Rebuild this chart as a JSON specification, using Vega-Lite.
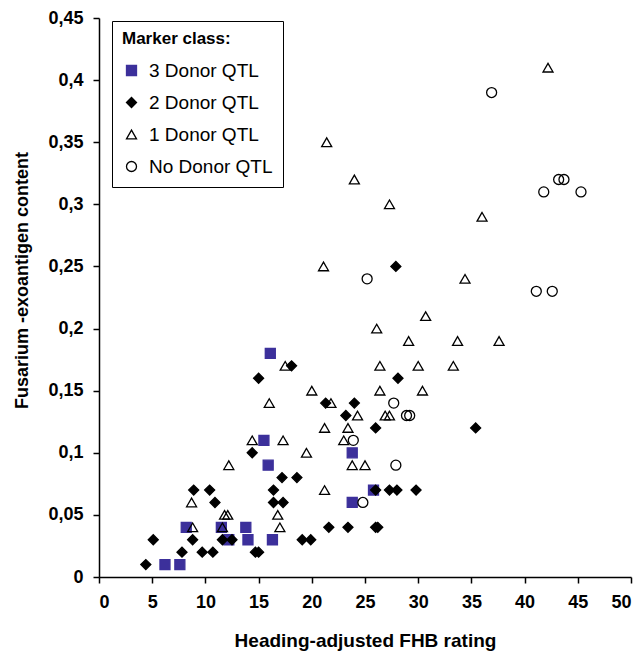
{
  "$schema": "https://vega.github.io/schema/vega-lite/v6.json",
  "width": 532,
  "height": 559,
  "autosize": {"type": "none"},
  "padding": {"left": 99, "top": 18, "right": 13, "bottom": 75},
  "background": "white",
  "config": {
    "view": {"stroke": null},
    "font": "Liberation Sans",
    "axis": {
      "domainColor": "black",
      "domainWidth": 1.5,
      "tickColor": "black",
      "tickWidth": 1.5,
      "tickSize": 6,
      "grid": false,
      "labelFont": "Liberation Sans",
      "labelFontSize": 18,
      "labelFontWeight": "bold",
      "labelColor": "black",
      "labelPadding": 10,
      "titleFont": "Liberation Sans",
      "titleFontSize": 19,
      "titleFontWeight": "bold",
      "titleColor": "black"
    },
    "legend": {
      "orient": "none",
      "legendX": 13,
      "legendY": 3,
      "padding": 10,
      "strokeColor": "black",
      "fillColor": "white",
      "titleFont": "Liberation Sans",
      "titleFontSize": 17,
      "titleFontWeight": "bold",
      "titleColor": "black",
      "titlePadding": 13,
      "labelFont": "Liberation Sans",
      "labelFontSize": 19,
      "labelColor": "black",
      "labelOffset": 8,
      "rowPadding": 12,
      "symbolStrokeWidth": 1.3
    }
  },
  "data": {
    "values": [
      {"x": 6.2, "y": 0.01, "cls": "3 Donor QTL"},
      {"x": 7.6, "y": 0.01, "cls": "3 Donor QTL"},
      {"x": 8.2, "y": 0.04, "cls": "3 Donor QTL"},
      {"x": 11.5, "y": 0.04, "cls": "3 Donor QTL"},
      {"x": 12.2, "y": 0.03, "cls": "3 Donor QTL"},
      {"x": 13.8, "y": 0.04, "cls": "3 Donor QTL"},
      {"x": 14.0, "y": 0.03, "cls": "3 Donor QTL"},
      {"x": 16.3, "y": 0.03, "cls": "3 Donor QTL"},
      {"x": 15.5, "y": 0.11, "cls": "3 Donor QTL"},
      {"x": 15.9, "y": 0.09, "cls": "3 Donor QTL"},
      {"x": 16.1, "y": 0.18, "cls": "3 Donor QTL"},
      {"x": 23.8, "y": 0.10, "cls": "3 Donor QTL"},
      {"x": 23.8, "y": 0.06, "cls": "3 Donor QTL"},
      {"x": 25.8, "y": 0.07, "cls": "3 Donor QTL"},

      {"x": 4.4, "y": 0.01, "cls": "2 Donor QTL"},
      {"x": 5.1, "y": 0.03, "cls": "2 Donor QTL"},
      {"x": 7.8, "y": 0.02, "cls": "2 Donor QTL"},
      {"x": 8.8, "y": 0.03, "cls": "2 Donor QTL"},
      {"x": 8.9, "y": 0.07, "cls": "2 Donor QTL"},
      {"x": 9.7, "y": 0.02, "cls": "2 Donor QTL"},
      {"x": 10.4, "y": 0.07, "cls": "2 Donor QTL"},
      {"x": 10.7, "y": 0.02, "cls": "2 Donor QTL"},
      {"x": 10.9, "y": 0.06, "cls": "2 Donor QTL"},
      {"x": 11.6, "y": 0.03, "cls": "2 Donor QTL"},
      {"x": 12.5, "y": 0.03, "cls": "2 Donor QTL"},
      {"x": 14.4, "y": 0.10, "cls": "2 Donor QTL"},
      {"x": 14.7, "y": 0.02, "cls": "2 Donor QTL"},
      {"x": 15.0, "y": 0.02, "cls": "2 Donor QTL"},
      {"x": 15.0, "y": 0.16, "cls": "2 Donor QTL"},
      {"x": 16.4, "y": 0.07, "cls": "2 Donor QTL"},
      {"x": 16.4, "y": 0.06, "cls": "2 Donor QTL"},
      {"x": 17.2, "y": 0.08, "cls": "2 Donor QTL"},
      {"x": 17.3, "y": 0.06, "cls": "2 Donor QTL"},
      {"x": 18.1, "y": 0.17, "cls": "2 Donor QTL"},
      {"x": 18.6, "y": 0.08, "cls": "2 Donor QTL"},
      {"x": 19.1, "y": 0.03, "cls": "2 Donor QTL"},
      {"x": 19.9, "y": 0.03, "cls": "2 Donor QTL"},
      {"x": 21.3, "y": 0.14, "cls": "2 Donor QTL"},
      {"x": 21.6, "y": 0.04, "cls": "2 Donor QTL"},
      {"x": 23.2, "y": 0.13, "cls": "2 Donor QTL"},
      {"x": 23.4, "y": 0.04, "cls": "2 Donor QTL"},
      {"x": 24.0, "y": 0.14, "cls": "2 Donor QTL"},
      {"x": 26.0, "y": 0.12, "cls": "2 Donor QTL"},
      {"x": 26.0, "y": 0.07, "cls": "2 Donor QTL"},
      {"x": 26.0, "y": 0.04, "cls": "2 Donor QTL"},
      {"x": 26.2, "y": 0.04, "cls": "2 Donor QTL"},
      {"x": 27.3, "y": 0.07, "cls": "2 Donor QTL"},
      {"x": 28.0, "y": 0.07, "cls": "2 Donor QTL"},
      {"x": 28.1, "y": 0.16, "cls": "2 Donor QTL"},
      {"x": 27.9, "y": 0.25, "cls": "2 Donor QTL"},
      {"x": 29.8, "y": 0.07, "cls": "2 Donor QTL"},
      {"x": 35.4, "y": 0.12, "cls": "2 Donor QTL"},

      {"x": 8.7, "y": 0.06, "cls": "1 Donor QTL"},
      {"x": 8.8, "y": 0.04, "cls": "1 Donor QTL"},
      {"x": 11.6, "y": 0.04, "cls": "1 Donor QTL"},
      {"x": 11.8, "y": 0.05, "cls": "1 Donor QTL"},
      {"x": 12.1, "y": 0.05, "cls": "1 Donor QTL"},
      {"x": 12.2, "y": 0.09, "cls": "1 Donor QTL"},
      {"x": 14.4, "y": 0.11, "cls": "1 Donor QTL"},
      {"x": 16.0, "y": 0.14, "cls": "1 Donor QTL"},
      {"x": 16.8, "y": 0.05, "cls": "1 Donor QTL"},
      {"x": 17.0, "y": 0.04, "cls": "1 Donor QTL"},
      {"x": 17.3, "y": 0.11, "cls": "1 Donor QTL"},
      {"x": 17.5, "y": 0.17, "cls": "1 Donor QTL"},
      {"x": 19.5, "y": 0.10, "cls": "1 Donor QTL"},
      {"x": 20.0, "y": 0.15, "cls": "1 Donor QTL"},
      {"x": 21.2, "y": 0.12, "cls": "1 Donor QTL"},
      {"x": 21.2, "y": 0.07, "cls": "1 Donor QTL"},
      {"x": 21.8, "y": 0.14, "cls": "1 Donor QTL"},
      {"x": 23.0, "y": 0.11, "cls": "1 Donor QTL"},
      {"x": 23.4, "y": 0.12, "cls": "1 Donor QTL"},
      {"x": 23.8, "y": 0.09, "cls": "1 Donor QTL"},
      {"x": 24.3, "y": 0.13, "cls": "1 Donor QTL"},
      {"x": 25.0, "y": 0.09, "cls": "1 Donor QTL"},
      {"x": 26.1, "y": 0.20, "cls": "1 Donor QTL"},
      {"x": 26.4, "y": 0.17, "cls": "1 Donor QTL"},
      {"x": 26.4, "y": 0.15, "cls": "1 Donor QTL"},
      {"x": 26.9, "y": 0.13, "cls": "1 Donor QTL"},
      {"x": 27.3, "y": 0.13, "cls": "1 Donor QTL"},
      {"x": 29.1, "y": 0.19, "cls": "1 Donor QTL"},
      {"x": 30.0, "y": 0.17, "cls": "1 Donor QTL"},
      {"x": 30.4, "y": 0.15, "cls": "1 Donor QTL"},
      {"x": 30.7, "y": 0.21, "cls": "1 Donor QTL"},
      {"x": 33.3, "y": 0.17, "cls": "1 Donor QTL"},
      {"x": 33.7, "y": 0.19, "cls": "1 Donor QTL"},
      {"x": 37.6, "y": 0.19, "cls": "1 Donor QTL"},
      {"x": 21.1, "y": 0.25, "cls": "1 Donor QTL"},
      {"x": 21.4, "y": 0.35, "cls": "1 Donor QTL"},
      {"x": 24.0, "y": 0.32, "cls": "1 Donor QTL"},
      {"x": 27.3, "y": 0.30, "cls": "1 Donor QTL"},
      {"x": 34.4, "y": 0.24, "cls": "1 Donor QTL"},
      {"x": 36.0, "y": 0.29, "cls": "1 Donor QTL"},
      {"x": 42.2, "y": 0.41, "cls": "1 Donor QTL"},

      {"x": 23.9, "y": 0.11, "cls": "No Donor QTL"},
      {"x": 24.8, "y": 0.06, "cls": "No Donor QTL"},
      {"x": 27.7, "y": 0.14, "cls": "No Donor QTL"},
      {"x": 27.9, "y": 0.09, "cls": "No Donor QTL"},
      {"x": 28.9, "y": 0.13, "cls": "No Donor QTL"},
      {"x": 29.2, "y": 0.13, "cls": "No Donor QTL"},
      {"x": 25.2, "y": 0.24, "cls": "No Donor QTL"},
      {"x": 36.9, "y": 0.39, "cls": "No Donor QTL"},
      {"x": 41.1, "y": 0.23, "cls": "No Donor QTL"},
      {"x": 42.6, "y": 0.23, "cls": "No Donor QTL"},
      {"x": 41.8, "y": 0.31, "cls": "No Donor QTL"},
      {"x": 43.2, "y": 0.32, "cls": "No Donor QTL"},
      {"x": 43.7, "y": 0.32, "cls": "No Donor QTL"},
      {"x": 45.3, "y": 0.31, "cls": "No Donor QTL"}
    ]
  },
  "mark": {"type": "point", "opacity": 1, "strokeWidth": 1.3},
  "encoding": {
    "x": {
      "field": "x",
      "type": "quantitative",
      "scale": {"domain": [0, 50], "nice": false, "zero": true},
      "axis": {
        "title": "Heading-adjusted FHB rating",
        "values": [0, 5, 10, 15, 20, 25, 30, 35, 40, 45, 50],
        "titlePadding": 20
      }
    },
    "y": {
      "field": "y",
      "type": "quantitative",
      "scale": {"domain": [0, 0.45], "nice": false},
      "axis": {
        "title": "Fusarium -exoantigen content",
        "values": [0, 0.05, 0.1, 0.15, 0.2, 0.25, 0.3, 0.35, 0.4, 0.45],
        "labelExpr": "replace(format(datum.value, '.2~f'), '.', ',')",
        "titlePadding": 16,
        "titleY": 262,
        "titleFontSize": 18
      }
    },
    "shape": {
      "field": "cls",
      "type": "nominal",
      "scale": {
        "domain": ["3 Donor QTL", "2 Donor QTL", "1 Donor QTL", "No Donor QTL"],
        "range": ["square", "diamond", "triangle-up", "circle"]
      },
      "legend": {"title": "Marker class:"}
    },
    "fill": {
      "field": "cls",
      "type": "nominal",
      "scale": {
        "domain": ["3 Donor QTL", "2 Donor QTL", "1 Donor QTL", "No Donor QTL"],
        "range": ["#3c309b", "#000000", "transparent", "transparent"]
      },
      "legend": {"title": "Marker class:"}
    },
    "stroke": {
      "field": "cls",
      "type": "nominal",
      "scale": {
        "domain": ["3 Donor QTL", "2 Donor QTL", "1 Donor QTL", "No Donor QTL"],
        "range": ["#3c309b", "#000000", "#000000", "#000000"]
      },
      "legend": {"title": "Marker class:"}
    },
    "size": {
      "field": "cls",
      "type": "nominal",
      "scale": {
        "domain": ["3 Donor QTL", "2 Donor QTL", "1 Donor QTL", "No Donor QTL"],
        "range": [100, 100, 115, 160]
      },
      "legend": {"title": "Marker class:"}
    }
  }
}
